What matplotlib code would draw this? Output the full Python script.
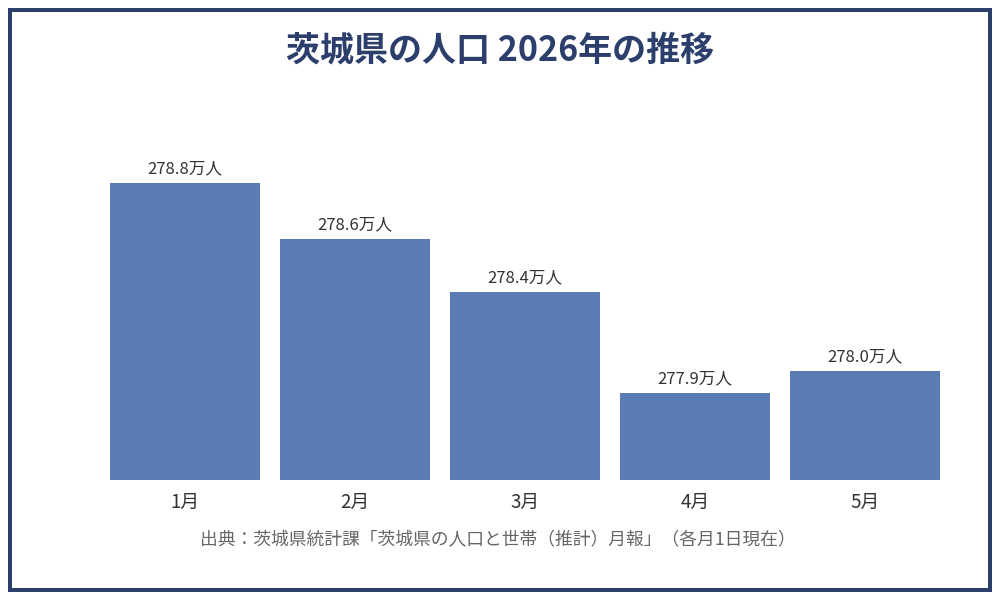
import matplotlib
matplotlib.use('Agg')
import matplotlib.pyplot as plt
from matplotlib.patches import Rectangle

plt.rcParams['font.family'] = ['Noto Sans CJK JP', 'DejaVu Sans']

months = ['1月', '2月', '3月', '4月', '5月']
population = [278.84, 278.60, 278.37, 277.935, 278.03]
labels = ['278.8万人', '278.6万人', '278.4万人', '277.9万人', '278.0万人']

title = '茨城県の人口 2026年の推移'
source = '出典：茨城県統計課「茨城県の人口と世帯（推計）月報」（各月1日現在）'

navy = '#2c3e6b'
bar_color = '#5b7bb4'
text_color = '#333333'

fig = plt.figure(figsize=(10, 6), dpi=100)
fig.patch.set_facecolor('white')

# outer frame
frame = Rectangle((0.010, 10 / 600), 0.980, 580 / 600, transform=fig.transFigure,
                  fill=False, edgecolor=navy, linewidth=2.88)
fig.patches.append(frame)

ax = fig.add_axes([0.10, 0.20, 0.85, 0.6333])
x = range(len(months))
bars = ax.bar(x, population, width=0.882, color=bar_color)

ax.set_xlim(-0.5, len(months) - 0.5)
ax.set_ylim(277.56, 279.198)

for rect, lab in zip(bars, labels):
    ax.annotate(lab, (rect.get_x() + rect.get_width() / 2, rect.get_height() + rect.get_y()),
                xytext=(0, 4), textcoords='offset points', ha='center', va='bottom',
                fontsize=12, color=text_color)

ax.set_xticks(list(x))
ax.set_xticklabels(months, fontsize=13.5, color=text_color)
ax.tick_params(axis='x', length=0, pad=8.5)
ax.set_yticks([])
for s in ax.spines.values():
    s.set_visible(False)

fig.text(0.5, 1 - 50 / 600, title, ha='center', va='center', fontsize=24.5,
         fontweight='bold', color=navy)
fig.text(0.4975, 1 - 539 / 600, source, ha='center', va='center', fontsize=12.8,
         color='#666666')

fig.savefig('out.png', dpi=100, facecolor='white')
